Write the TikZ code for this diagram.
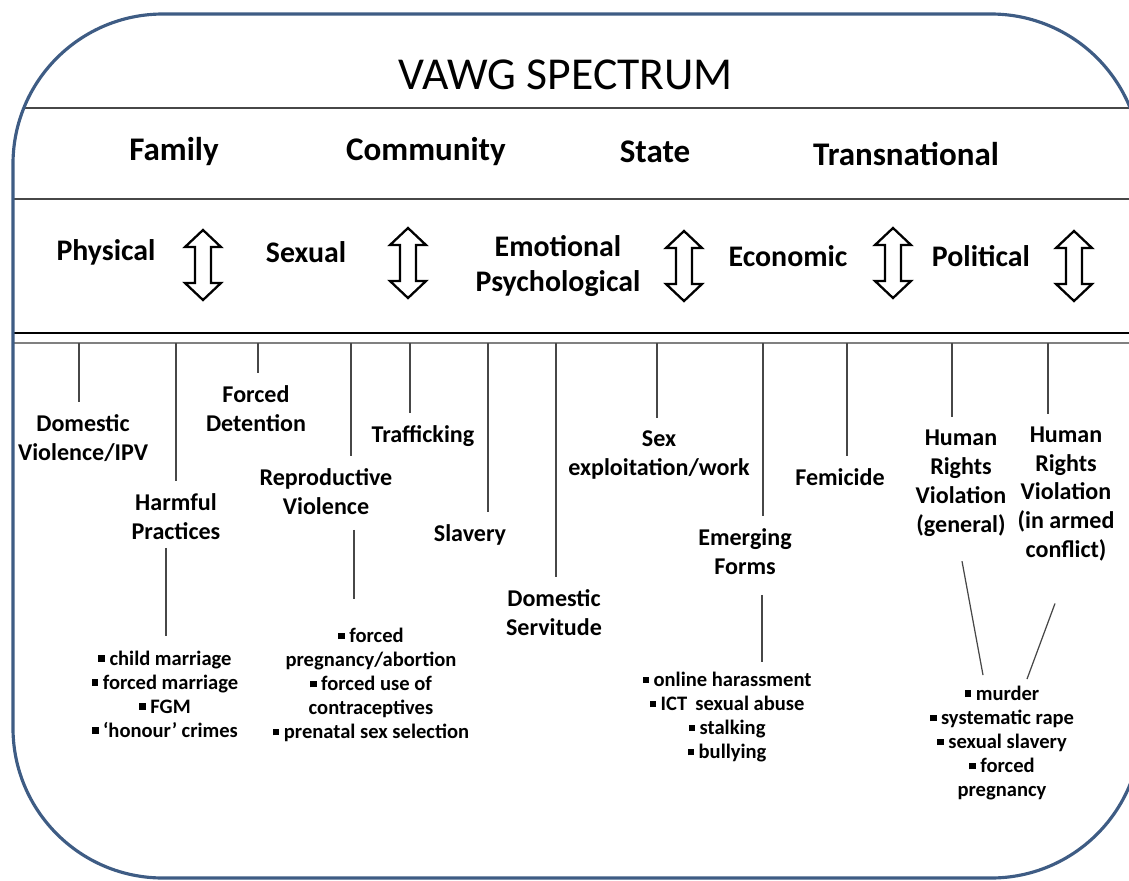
\documentclass[tikz,border=0pt]{standalone}
\usepackage{fontspec}
\setmainfont{Carlito}
\usetikzlibrary{calc}
\definecolor{frameblue}{HTML}{3E5C84}
\definecolor{rulegray}{HTML}{474747}
\newcommand\sq{\rule[0.16em]{0.32em}{0.32em}\hspace{0.22em}}
\tikzset{
  frame/.style = {draw=frameblue, line width=1.8pt, rounded corners=3cm},
  band/.style = {draw=rulegray, line width=0.9pt},
  title/.style = {font=\fontsize{26}{30}\selectfont},
  level head/.style = {font=\bfseries\fontsize{18.8}{22}\selectfont},
  type head/.style = {font=\bfseries\fontsize{17}{19.4}\selectfont, align=center},
  form/.style = {font=\bfseries\fontsize{13.7}{16.5}\selectfont, align=center, inner sep=2pt},
  sublist/.style = {font=\bfseries\fontsize{11.7}{13.7}\selectfont, align=center, inner sep=2pt},
  stem/.style = {draw=rulegray, line width=0.7pt, shorten >=5pt},
  link/.style = {draw=rulegray, line width=0.7pt},
  updown/.style = {draw=black, line width=1.3pt, fill=white, line join=miter}
}
\def\UpDown#1#2{%
  \draw[updown] (#1,#2) ++(0,-35) -- ++(18,17) -- ++(-10,0) -- ++(0,36)
    -- ++(10,0) -- ++(-18,17) -- ++(-18,-17) -- ++(10,0) -- ++(0,-36)
    -- ++(-10,0) -- cycle;
}

\begin{document}
\begin{tikzpicture}[x=0.02cm, y=-0.02cm]
\useasboundingbox (0,0) rectangle (1129,880);
\clip (0,0) rectangle (1129,880);

% bands
\begin{scope}
  \clip[rounded corners=3cm] (13,14) rectangle (1141,878);
  \draw[band] (0,108) -- (1129,108);
  \draw[band] (0,199) -- (1129,199);
  \draw[band, draw=black] (0,333) -- (1129,333);
  \draw[band, draw=gray, line width=1.3pt] (0,343) -- (1129,343);
\end{scope}
\draw[frame] (13,14) rectangle (1141,878);

\node[title] (title) at (566,75) {VAWG SPECTRUM};

% levels
\node[level head] (fam) at (174,152) {Family};
\node[level head] (com) at (426,152) {Community};
\node[level head] (sta) at (655,152) {State};
\node[level head] (tra) at (906,154) {Transnational};

% types
\node[type head] (phy) at (106,252) {Physical};
\node[type head] (sex) at (306,252) {Sexual};
\node[type head] (emo) at (558,266) {Emotional\\Psychological};
\node[type head] (eco) at (788,256) {Economic};
\node[type head] (pol) at (981,256) {Political};
\foreach \x/\y in {203/265, 408/263, 684/266, 893/263, 1074/266}{
  \UpDown{\x}{\y}
}

% forms
\node[form] (dv) at (83,438) {Domestic\\Violence/IPV};
\node[form] (hp) at (176,517) {Harmful\\Practices};
\node[form] (fd) at (256,409) {Forced\\Detention};
\node[form] (rv) at (326,492) {Reproductive\\Violence};
\node[form] (tr) at (423,436) {Trafficking};
\node[form] (sl) at (470,535) {Slavery};
\node[form] (ds) at (554,613) {Domestic\\Servitude};
\node[form] (se) at (659,455) {Sex\\exploitation/work};
\node[form] (ef) at (745,552) {Emerging\\Forms};
\node[form] (fe) at (840,477) {Femicide};
\node[form] (hg) at (961,483) {Human\\Rights\\Violation\\(general)};
\node[form] (ha) at (1066,494) {Human\\Rights\\Violation\\(in armed\\conflict)};

% sub lists
\node[sublist] (hpl) at (165,694) {\sq child marriage\\\sq forced marriage\\\sq FGM\\\sq ‘honour’ crimes};
\node[sublist] (rvl) at (371,685) {\sq forced\\pregnancy/abortion\\\sq forced use of\\contraceptives\\\sq prenatal sex selection};
\node[sublist] (efl) at (727,717) {\sq online harassment\\\sq ICT\, sexual abuse\\\sq stalking\\\sq bullying};
\node[sublist] (hrl) at (1002,743) {\sq murder\\\sq systematic rape\\\sq sexual slavery\\\sq forced\\pregnancy};

% stems from the spectrum bar
\foreach \x/\n in {79/dv, 176/hp, 258/fd, 351/rv, 410/tr, 488/sl, 556/ds,
                   657/se, 763/ef, 847/fe, 952/hg, 1048/ha}{
  \coordinate (top-\n) at (\x,343);
  \draw[stem] (top-\n) -- (top-\n |- \n.north);
}

% links to the examples
\draw[link] ($(hp.south)+(-10,4)$) -- ($(hpl.north)+(1,-11)$);
\draw[link] ($(rv.south)+(28,11)$) -- ($(rvl.north)+(-17,-25)$);
\draw[link] ($(ef.south)+(17,16)$) -- ($(efl.north)+(35,-6)$);
\draw[link] ($(hg.south)+(1,21)$) -- ($(hrl.north)+(-19,-7)$);
\draw[link] ($(ha.south)+(-11,38)$) -- ($(hrl.north)+(25,-3)$);
\end{tikzpicture}
\end{document}
